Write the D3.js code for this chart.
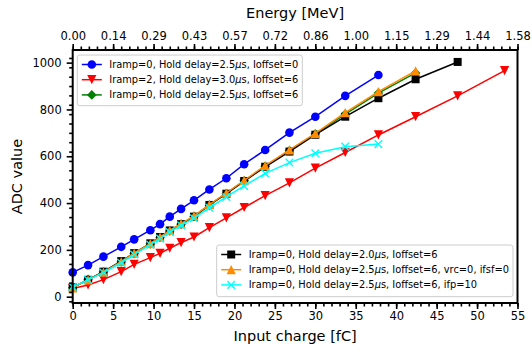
<!DOCTYPE html>
<html><head><meta charset="utf-8">
<script src="https://cdn.jsdelivr.net/npm/d3@7"></script>
<style>body{margin:0;background:#fff}svg{display:block;font-family:"DejaVu Sans",sans-serif}</style>
</head><body><svg id="c" width="532" height="351"></svg>
<script>
const charge = [0, 1.9, 3.8, 6.0, 7.6, 9.6, 10.8, 12.0, 13.4, 15.0, 16.9, 19.0, 21.2, 23.8, 26.8, 30.0, 33.7, 37.8, 42.4, 47.6, 53.4];
const blueVals   = [104,135,171,213,245,284,310,342,375,412,458,506,566,627,701,769,858,947];
const redVals    = [35,50,73,107,138,167,185,207,231,255,295,337,381,432,486,549,616,691,769,858,966];
const greenVals  = [38,74,105,148,184,225,253,281,310,343,391,441,495,557,624,696,780,870,956];
const blackVals  = [40,72,107,152,186,228,255,283,310,342,392,440,494,555,620,692,769,848,929,1003];
const orangeVals = [38,72,105,150,186,227,255,283,312,345,393,443,497,560,627,698,786,876,965];
const cyanVals   = [42,72,103,145,180,222,248,276,305,335,380,426,473,527,573,613,641,652];
const xTicks = [0,5,10,15,20,25,30,35,40,45,50,55];
const yTicks = [0,200,400,600,800,1000];
const mevPerFC = 0.028707;

const series = [
  {name:"Iramp=0, Hold delay=2.5|, Ioffset=0", vals:blueVals, color:"#0000ff", marker:"circle", leg:1},
  {name:"Iramp=2, Hold delay=3.0|, Ioffset=6", vals:redVals, color:"#ff0000", marker:"tridown", leg:1},
  {name:"Iramp=0, Hold delay=2.5|, Ioffset=6", vals:greenVals, color:"#008000", marker:"diamond", leg:1},
  {name:"Iramp=0, Hold delay=2.0|, Ioffset=6", vals:blackVals, color:"#000000", marker:"square", leg:2},
  {name:"Iramp=0, Hold delay=2.5|, Ioffset=6, vrc=0, ifsf=0", vals:orangeVals, color:"#ff8c00", marker:"triup", leg:2},
  {name:"Iramp=0, Hold delay=2.5|, Ioffset=6, ifp=10", vals:cyanVals, color:"#00ffff", marker:"x", leg:2}
];

const svg = d3.select("#c");
const L=72.7, R=517.5, T=50, B=303;
const x = d3.scaleLinear().domain([0,55]).range([L,R]);
const y = d3.scaleLinear().domain([-27,1054]).range([B,T]);

function drawMarker(g, type, color, cx, cy){
  if(type==="circle") g.append("circle").attr("cx",cx).attr("cy",cy).attr("r",4.3).attr("fill",color);
  else if(type==="square") g.append("rect").attr("x",cx-4).attr("y",cy-4).attr("width",8).attr("height",8).attr("fill",color);
  else if(type==="diamond") g.append("path").attr("d",`M${cx},${cy-4.8}L${cx+4.8},${cy}L${cx},${cy+4.8}L${cx-4.8},${cy}Z`).attr("fill",color);
  else if(type==="tridown") g.append("path").attr("d",`M${cx-4.6},${cy-4.6}L${cx+4.6},${cy-4.6}L${cx},${cy+4.6}Z`).attr("fill",color);
  else if(type==="triup") g.append("path").attr("d",`M${cx-4.6},${cy+4.6}L${cx+4.6},${cy+4.6}L${cx},${cy-4.6}Z`).attr("fill",color);
  else if(type==="x") g.append("path").attr("d",`M${cx-3.8},${cy-3.8}L${cx+3.8},${cy+3.8}M${cx-3.8},${cy+3.8}L${cx+3.8},${cy-3.8}`).attr("stroke",color).attr("stroke-width",1.4);
}

const plot = svg.append("g");
const line = d3.line().x(d=>x(d[0])).y(d=>y(d[1]));
series.forEach(s=>{
  const pts = s.vals.map((v,i)=>[charge[i],v]);
  plot.append("path").datum(pts).attr("d",line).attr("fill","none").attr("stroke",s.color).attr("stroke-width",1.5);
  const mg = plot.append("g");
  pts.forEach(p=>drawMarker(mg,s.marker,s.color,x(p[0]),y(p[1])));
});

// axes
function styleAxis(g){
  g.select(".domain").remove();
  g.attr("font-family","DejaVu Sans").attr("font-size",null);
  g.selectAll(".tick line").attr("stroke","#000").attr("stroke-width",1.6);
  g.selectAll(".tick text").attr("fill","#000").style("font-size","11.5px").style("font-family","DejaVu Sans");
}
const xb = svg.append("g").attr("transform",`translate(0,${B})`).call(d3.axisBottom(x).tickValues(xTicks).tickSize(6).tickPadding(3).tickFormat(d3.format("d")));
styleAxis(xb);
const xbm = svg.append("g").attr("transform",`translate(0,${B})`).call(d3.axisBottom(x).tickValues(d3.range(0,56,1)).tickSize(3.5).tickFormat(""));
styleAxis(xbm);
const xt = svg.append("g").attr("transform",`translate(0,${T})`).call(d3.axisTop(x).tickValues(xTicks).tickSize(6).tickPadding(4).tickFormat(d=>(d*mevPerFC).toFixed(2)));
styleAxis(xt);
const xtm = svg.append("g").attr("transform",`translate(0,${T})`).call(d3.axisTop(x).tickValues(d3.range(0,56,1)).tickSize(3.5).tickFormat(""));
styleAxis(xtm);
const yl = svg.append("g").attr("transform",`translate(${L},0)`).call(d3.axisLeft(y).tickValues(yTicks).tickSize(6).tickPadding(5).tickFormat(d3.format("d")));
styleAxis(yl);
const ylm = svg.append("g").attr("transform",`translate(${L},0)`).call(d3.axisLeft(y).tickValues(d3.range(-20,1051,40).filter(v=>v>=-27)).tickSize(3.5).tickFormat(""));
styleAxis(ylm);

svg.append("rect").attr("x",L).attr("y",T).attr("width",R-L).attr("height",B-T).attr("fill","none").attr("stroke","#000").attr("stroke-width",2);

svg.append("text").attr("x",(L+R)/2).attr("y",341).attr("text-anchor","middle").style("font-size","14.5px").text("Input charge [fC]");
svg.append("text").attr("x",(L+R)/2).attr("y",18).attr("text-anchor","middle").style("font-size","14.5px").text("Energy [MeV]");
svg.append("text").attr("transform",`translate(22,${(T+B)/2}) rotate(-90)`).attr("text-anchor","middle").style("font-size","14.5px").text("ADC value");

// legends
function legend(items, bx, by, bw, bh){
  const g = svg.append("g");
  g.append("rect").attr("x",bx).attr("y",by).attr("width",bw).attr("height",bh).attr("rx",2.5)
    .attr("fill","#fff").attr("fill-opacity",0.8).attr("stroke","#cccccc").attr("stroke-width",1);
  items.forEach((s,i)=>{
    const ry = by+9.5+i*15.2;
    g.append("line").attr("x1",bx+4.5).attr("x2",bx+24.5).attr("y1",ry).attr("y2",ry).attr("stroke",s.color).attr("stroke-width",1.5);
    drawMarker(g,s.marker,s.color,bx+14.5,ry);
    const t = g.append("text").attr("x",bx+32).attr("y",ry+3.5).style("font-size","9.85px").attr("fill","#000");
    const parts = s.name.split("|");
    t.append("tspan").text(parts[0]);
    t.append("tspan").style("font-style","italic").text("\u03bc");
    t.append("tspan").text("s"+parts[1]);
  });
}
legend(series.filter(s=>s.leg===1), 77.3, 55, 225, 50.7);
legend(series.filter(s=>s.leg===2), 216.7, 245, 296.3, 51.7);
</script></body></html>
